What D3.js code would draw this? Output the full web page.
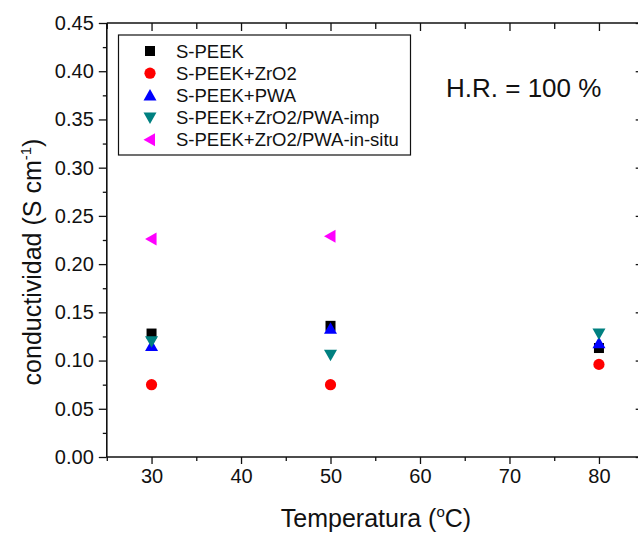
<!DOCTYPE html>
<html>
<head>
<meta charset="utf-8">
<script src="https://cdn.jsdelivr.net/npm/d3@7"></script>
<style>
  html, body { margin: 0; padding: 0; background: #fff; }
  svg { display: block; overflow: hidden; }
  text { font-family: "Liberation Sans", Arial, sans-serif; fill: #111; }
</style>
</head>
<body>
<svg id="chart" width="638" height="533"></svg>
<script>
// Temperatures (°C) at which conductivity was measured
const temperatures = [30, 50, 80];

// Series names as shown in the legend
const seriesNames = [
  "S-PEEK",
  "S-PEEK+ZrO2",
  "S-PEEK+PWA",
  "S-PEEK+ZrO2/PWA-imp",
  "S-PEEK+ZrO2/PWA-in-situ"
];

// Conductivity values (S cm-1), one per temperature
const sPeek              = [0.128, 0.136, 0.113];
const sPeekZrO2          = [0.075, 0.075, 0.096];
const sPeekPWA           = [0.115, 0.133, 0.118];
const sPeekZrO2PWAimp    = [0.120, 0.106, 0.128];
const sPeekZrO2PWAinsitu = [0.226, 0.229, null];

const seriesValues = [sPeek, sPeekZrO2, sPeekPWA, sPeekZrO2PWAimp, sPeekZrO2PWAinsitu];
const seriesColors = ["#000000", "#ff0000", "#0000ff", "#008080", "#ff00ff"];
const seriesShapes = ["square", "circle", "up", "down", "left"];

// Axis ticks
const xTicks = [30, 40, 50, 60, 70, 80];
const xMinorTicks = [25, 35, 45, 55, 65, 75, 85];
const yTicks = [0, 0.05, 0.10, 0.15, 0.20, 0.25, 0.30, 0.35, 0.40, 0.45];
const yMinorTicks = [0.025, 0.075, 0.125, 0.175, 0.225, 0.275, 0.325, 0.375, 0.425];

const svg = d3.select("#chart");
const plot = { left: 106.8, right: 643.7, top: 23, bottom: 457 };

const x = d3.scaleLinear().domain([25, 85]).range([plot.left, plot.right]);
const y = d3.scaleLinear().domain([0, 0.45]).range([plot.bottom, plot.top]);

const axisColor = "#111";
const fmtY = d3.format(".2f");

// Bottom axis: major and minor ticks outward
const gB = svg.append("g").attr("transform", `translate(0,${plot.bottom})`);
gB.call(d3.axisBottom(x).tickValues(xTicks).tickSize(7).tickPadding(5).tickFormat(d3.format("d")));
gB.append("g").call(d3.axisBottom(x).tickValues(xMinorTicks).tickSize(4).tickFormat(""));
// Left axis
const gL = svg.append("g").attr("transform", `translate(${plot.left},0)`);
gL.call(d3.axisLeft(y).tickValues(yTicks).tickSize(8).tickPadding(5).tickFormat(fmtY));
gL.append("g").call(d3.axisLeft(y).tickValues(yMinorTicks).tickSize(4).tickFormat(""));
// Top axis: ticks pointing inward
const gT = svg.append("g").attr("transform", `translate(0,${plot.top})`);
gT.call(d3.axisBottom(x).tickValues(xTicks).tickSize(8).tickFormat(""));
gT.append("g").call(d3.axisBottom(x).tickValues(xMinorTicks).tickSize(6).tickFormat(""));
// Right axis: ticks pointing inward
const gR = svg.append("g").attr("transform", `translate(${plot.right},0)`);
gR.call(d3.axisLeft(y).tickValues(yTicks).tickSize(8).tickFormat(""));
gR.append("g").call(d3.axisLeft(y).tickValues(yMinorTicks).tickSize(5).tickFormat(""));

svg.selectAll(".tick line").attr("stroke", axisColor).attr("stroke-width", 1.3);
svg.selectAll(".tick text")
  .style("font-family", "'Liberation Sans', Arial, sans-serif")
  .style("font-size", "20px")
  .attr("fill", "#111");
// Plain frame lines without D3's outer end ticks
svg.selectAll("g g .domain").remove();
gB.select(".domain").attr("d", `M${plot.left},0H${plot.right}`);
gT.select(".domain").attr("d", `M${plot.left},0H${plot.right}`);
gL.select(".domain").attr("d", `M0,${plot.bottom}V${plot.top}`);
gR.select(".domain").attr("d", `M0,${plot.bottom}V${plot.top}`);
svg.selectAll(".domain").attr("stroke", axisColor).attr("stroke-width", 1.6);

// Marker drawing
function marker(sel, shape, color) {
  if (shape === "square") {
    sel.append("rect").attr("x", -5).attr("y", -5).attr("width", 10).attr("height", 10).attr("fill", color);
  } else if (shape === "circle") {
    sel.append("circle").attr("r", 5.6).attr("fill", color);
  } else if (shape === "up") {
    sel.append("path").attr("d", "M0,-6.5L6.5,5L-6.5,5Z").attr("fill", color);
  } else if (shape === "down") {
    sel.append("path").attr("d", "M0,6.5L6.5,-5L-6.5,-5Z").attr("fill", color);
  } else if (shape === "left") {
    sel.append("path").attr("d", "M-6.5,0L5,-6.5L5,6.5Z").attr("fill", color);
  }
}

// Data points
seriesValues.forEach((vals, i) => {
  vals.forEach((v, j) => {
    if (v == null) return;
    const g = svg.append("g").attr("transform", `translate(${x(temperatures[j])},${y(v)})`);
    marker(g, seriesShapes[i], seriesColors[i]);
  });
});

// Legend
const legend = svg.append("g");
legend.append("rect")
  .attr("x", 118.5).attr("y", 35).attr("width", 292).attr("height", 120)
  .attr("fill", "#fff").attr("stroke", "#111").attr("stroke-width", 1.2);
seriesNames.forEach((name, i) => {
  const cy = 51 + i * 22.2;
  const g = legend.append("g").attr("transform", `translate(150,${cy})`);
  marker(g, seriesShapes[i], seriesColors[i]);
  legend.append("text").attr("x", 176).attr("y", cy + 6.5)
    .style("font-size", "18.5px").text(name);
});

// Relative humidity note
svg.append("text").attr("x", 446).attr("y", 97)
  .style("font-size", "26px").text("H.R. = 100 %");

// Axis titles
const xt = svg.append("text").attr("x", 376).attr("y", 527)
  .attr("text-anchor", "middle").style("font-size", "25px");
xt.append("tspan").text("Temperatura (");
xt.append("tspan").attr("dy", -10).style("font-size", "15px").text("o");
xt.append("tspan").attr("dy", 10).text("C)");

const yt = svg.append("text")
  .attr("transform", `translate(41,262) rotate(-90)`)
  .attr("text-anchor", "middle").style("font-size", "25px");
yt.append("tspan").text("conductividad (S cm");
yt.append("tspan").attr("dy", -10).style("font-size", "15px").text("-1");
yt.append("tspan").attr("dy", 10).text(")");
</script>
</body>
</html>
